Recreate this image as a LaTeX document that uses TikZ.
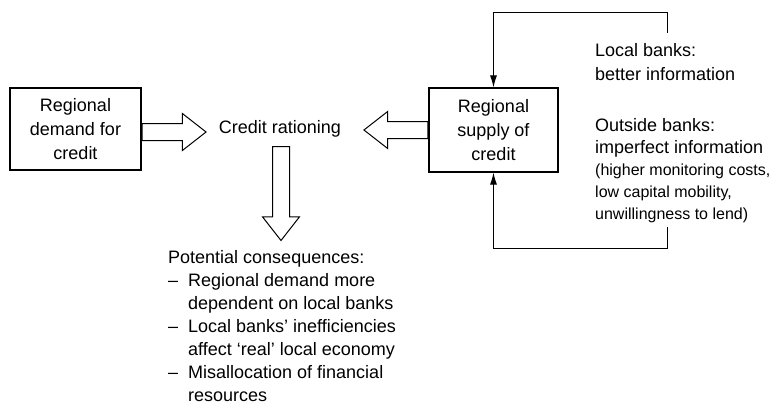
\documentclass[tikz,border=0pt]{standalone}
\usepackage{fontspec}
\setmainfont{Liberation Sans}
\usetikzlibrary{shapes.arrows,arrows.meta}
\tikzset{
block/.style={
	draw, line width=1.1pt, align=center, inner sep=0pt},
fatarrow/.style={
	draw, line width=1pt, single arrow, inner sep=8pt,
	anchor=tail, minimum width=36pt, single arrow head extend=10pt,
	single arrow tip angle=76},
loopline/.style={line width=1pt, -{Latex[length=12pt,width=7pt]}},
notes/.style={align=left, inner sep=0pt, anchor=north west}
}
\newcommand{\bigtxt}{\fontsize{18}{24}\selectfont}
\newcommand{\smalltxt}{\fontsize{16}{22}\selectfont}
\newcommand{\dashitem}{\makebox[20pt][l]{--}}

\begin{document}
\begin{tikzpicture}[x=1pt, y=-1pt]
	\useasboundingbox (0,0) rectangle (774,404);
	\node[block, minimum width=131pt, minimum height=82pt, font=\bigtxt]
		(demand) at (75.5,129) {Regional\\demand for\\credit};
	\node[font=\bigtxt, inner sep=0pt] (ration) at (280,129) {Credit rationing};
	\node[block, minimum width=129pt, minimum height=84pt, font=\bigtxt]
		(supply) at (493.5,130) {Regional\\supply of\\credit};
	% hollow arrows
	\node[fatarrow, minimum height=64pt, yshift=-3pt] (a1) at (demand.east) {};
	\node[fatarrow, minimum height=64pt, shape border rotate=180] (a2)
		at (supply.west) {};
	\node[fatarrow, minimum height=94pt, shape border rotate=270] (a3)
		at (281,146) {};
	% bank notes
	\node[notes, font=\bigtxt] (local) at (595,43.5) {Local banks:\\better information};
	\node[notes, font=\fontsize{18}{22}\selectfont] (outside) at (595,118.5)
		{Outside banks:\\imperfect information};
	\node[notes, font=\smalltxt] (why) at (595,164)
		{(higher monitoring costs,\\low capital mobility,\\unwillingness to lend)};
	\node[notes, font=\fontsize{18}{23}\selectfont] (conseq) at (168,250.5)
		{Potential consequences:\\
		\dashitem Regional demand more\\
		\hspace*{20pt}dependent on local banks\\
		\dashitem Local banks' inefficiencies\\
		\hspace*{20pt}affect `real' local economy\\
		\dashitem Misallocation of financial\\
		\hspace*{20pt}resources};
	% feedback loop
	\coordinate (loopT) at (667,33);
	\coordinate (loopB) at (667,227);
	\draw[loopline] (loopT) -- ++(0,-20) -| (supply.north);
	\draw[loopline] (loopB) -- ++(0,21) -| (supply.south);
\end{tikzpicture}
\end{document}
